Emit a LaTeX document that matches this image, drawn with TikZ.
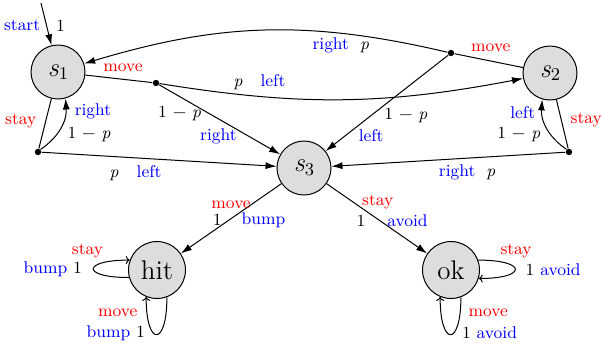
\documentclass[tikz,border=0pt]{standalone}
\usepackage{fontspec}
\usepackage{xcolor}
\usetikzlibrary{arrows.meta,positioning}
\definecolor{ActRed}{RGB}{255,0,0}
\definecolor{LabBlue}{RGB}{0,0,255}
\newcommand{\actn}[1]{\textcolor{ActRed}{#1}}
\newcommand{\blab}[1]{\textcolor{LabBlue}{#1}}
\newcommand{\omp}{1 − \textit{p}}
\newcommand{\stname}[1]{\textit{s}\raisebox{-1.8pt}{\fontsize{9}{9}\selectfont #1}}

\begin{document}
\begin{tikzpicture}[x=0.5pt, y=-0.5pt, >=Latex, font=\fontsize{8.5}{10}\selectfont,
  state/.style={draw, line width=0.5pt, circle, fill=gray!27, minimum size=27pt,
                inner sep=0pt, font=\fontsize{13.5}{15}\selectfont},
  chc/.style={circle, fill, inner sep=0pt, minimum size=3.2pt},
  sig/.style={-{Latex[length=5.5pt,width=3.5pt]}, line width=0.5pt},
  tie/.style={line width=0.5pt},
  selfl/.style={-{To[length=2pt,width=4pt]}, line width=0.5pt},
  lab/.style={inner sep=1.5pt}]
  \useasboundingbox (0,0) rectangle (602,345);

  % --- states ---
  \node[state] (s1) at (58,72)  {\stname{1}};
  \node[state] (s2) at (550,73) {\stname{2}};
  \node[state] (s3) at (304,168) {\stname{3}};
  \node[state, minimum size=28.5pt] (hit) at (157,270) {hit};
  \node[state, minimum size=28.5pt] (ok)  at (451,270) {ok};

  % --- choice points ---
  \node[chc] (c1mv) at (156,83) {};
  \node[chc] (c1st) at (38,152) {};
  \node[chc] (c2mv) at (451,53) {};
  \node[chc] (c2st) at (569,152) {};
  \coordinate (strt) at (41,3);

  \draw[sig] (strt) -- node[lab, pos=0.54, left=1.5pt]{\blab{start}} node[lab, pos=0.54, right=3pt]{1} (s1);

  % --- s1 ---
  \draw[tie] (s1) -- node[lab, pos=0.56, above=2pt]{\actn{move}} (c1mv);
  \draw[sig] (c1mv) to[bend right=10] node[lab, pos=0.26, above=1.5pt]{\textit{p}\hspace{9pt}\blab{left}} (s2);
  \draw[sig] (c1mv) -- node[lab, pos=0.17, below=3pt]{\omp} node[lab, pos=0.49, below=3pt]{\blab{right}} (s3);
  \draw[tie] (s1) -- node[lab, pos=0.44, left=3pt]{\actn{stay}} (c1st);
  \draw[sig] (c1st) to[bend right=30] node[lab, pos=0.35, right=4pt]{\omp} node[lab, pos=0.8, right=3pt]{\blab{right}} (s1);
  \draw[sig] (c1st) -- node[lab, pos=0.40, below=2pt]{\textit{p}\hspace{9pt}\blab{left}} (s3);

  % --- s2 ---
  \draw[tie] (s2) -- node[lab, pos=0.47, above=3pt]{\actn{move}} (c2mv);
  \draw[sig] (c2mv) to[bend right=15] node[lab, pos=0.28, below=0.5pt]{\blab{right}\hspace{5.5pt}\textit{p}} (s1);
  \draw[sig] (c2mv) -- node[lab, pos=0.63, right=5pt]{\omp} node[lab, pos=0.84, right=5pt]{\blab{left}} (s3);
  \draw[tie] (s2) -- node[lab, pos=0.41, right=3pt]{\actn{stay}} (c2st);
  \draw[sig] (c2st) to[bend left=30] node[lab, pos=0.37, left=3.5pt]{\omp} node[lab, pos=0.78, left=2pt]{\blab{left}} (s2);
  \draw[sig] (c2st) -- node[lab, pos=0.42, below=1.5pt]{\blab{right}\hspace{5.5pt}\textit{p}} (s3);

  % --- s3 ---
  \draw[sig] (s3) -- node[lab, pos=0.30, anchor=east, inner sep=0pt]{\actn{move}}
    node[lab, pos=0.52, left=2pt]{1} node[lab, pos=0.52, right=4.5pt]{\blab{bump}} (hit);
  \draw[sig] (s3) -- node[lab, pos=0.26, right=3pt]{\actn{stay}}
    node[lab, pos=0.53, left=5.5pt]{1} node[lab, pos=0.53, right=2pt]{\blab{avoid}} (ok);

  % --- self loops ---
  \draw[selfl] (hit.195) to[out=180, in=180, min distance=24pt]
    node[lab, pos=0.5, left=4pt]{\blab{bump}~1} node[lab, pos=0.8, above left]{\actn{stay}} (hit.160);
  \draw[selfl] (hit.290) to[out=270, in=270, min distance=25pt]
    node[lab, pos=0.6, left=2.5pt]{\blab{bump}~1} node[lab, pos=0.88, left=3pt]{\actn{move}} (hit.248);
  \draw[selfl] (ok.20) to[out=0, in=0, min distance=24.5pt]
    node[lab, pos=0.15, above right]{\actn{stay}} node[lab, pos=0.5, right=3.5pt]{1~\blab{avoid}} (ok.-17);
  \draw[selfl] (ok.290) to[out=270, in=270, min distance=25pt]
    node[lab, pos=0.12, right=2.5pt]{\actn{move}} node[lab, pos=0.4, right=2.5pt]{1~\blab{avoid}} (ok.248);
\end{tikzpicture}
\end{document}
